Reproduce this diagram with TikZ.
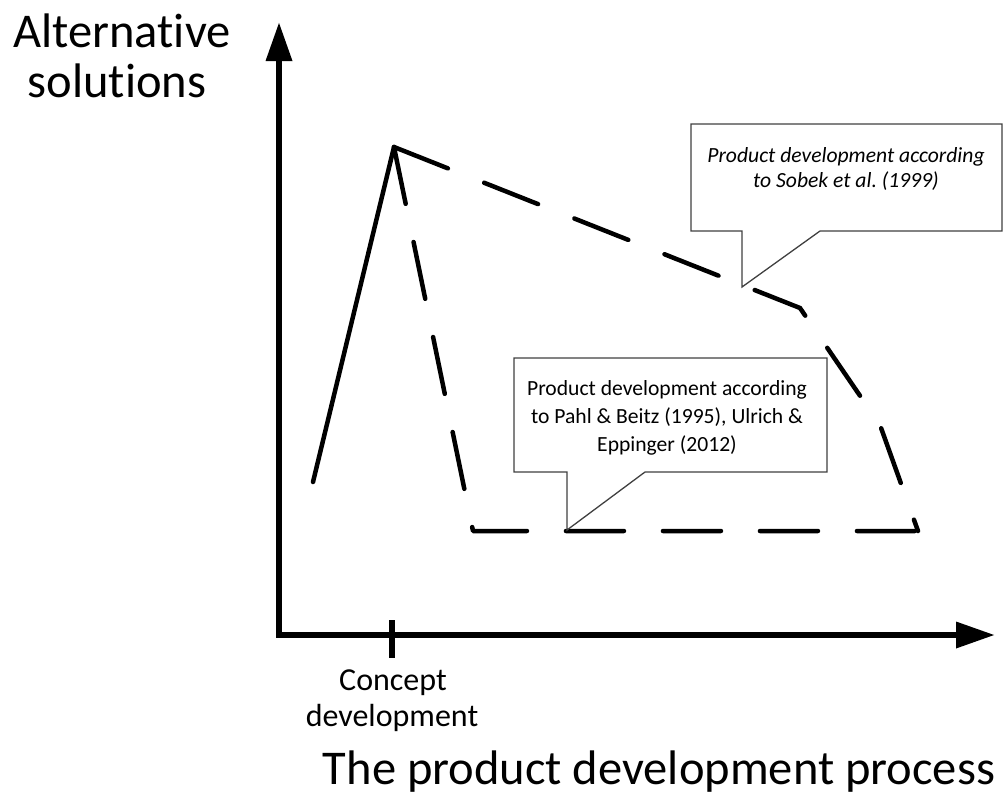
\documentclass[tikz,border=0pt]{standalone}
\usepackage{fontspec}
\setmainfont[RawFeature=-liga]{Carlito}
\frenchspacing
\usetikzlibrary{arrows.meta}
\begin{document}
\begin{tikzpicture}[x=1pt,y=-1pt,
  axis/.style={line width=6.5pt, line join=miter},
  curve/.style={line width=4.5pt, line cap=round, line join=round},
  dashcurve/.style={curve, dash pattern=on 58pt off 39pt},
  callout/.style={draw=black!75, line width=1.3pt, fill=white, line join=miter},
  big/.style={font=\fontsize{48.5}{50}\selectfont, anchor=base, inner sep=0pt},
  mid/.style={font=\fontsize{32}{36}\selectfont, anchor=base, inner sep=0pt},
  small/.style={font=\fontsize{21.6}{25}\selectfont, anchor=base, inner sep=0pt},
  smallit/.style={font=\fontsize{21.6}{25}\selectfont\itshape, anchor=base, inner sep=0pt}]
\useasboundingbox (0,0) rectangle (1007,796);
% axes
\coordinate (ytip) at (279,22);
\coordinate (origin) at (279,635);
\coordinate (xtip) at (995,635);
\draw[axis, {Triangle[length=39pt,width=25pt]}-{Triangle[length=39pt,width=25pt]}] (ytip) -- (origin) -- (xtip);
\coordinate (ticktop) at (392,620);
\coordinate (tickbot) at (392,658);
\draw[line width=6pt] (ticktop) -- (tickbot);
% curves
\coordinate (start) at (313,482);
\coordinate (peak) at (394,147);
\coordinate (pahlcorner) at (473,531);
\coordinate (endcorner) at (918,531);
\coordinate (sA) at (800,308);
\coordinate (sB) at (880,425);
\draw[curve] (start) -- (peak);
\draw[dashcurve] (peak) -- (pahlcorner) -- (endcorner);
\draw[dashcurve, line join=miter] (peak) -- (sA) -- (sB) -- (endcorner);
% callouts
\coordinate (stip) at (742,287);
\draw[callout] (691,124) -- (1002,124) -- (1002,231) -- (820,231) -- (stip) -- (742,231) -- (691,231) -- cycle;
\node[smallit] (sobek1) at (846,162) {Product development according};
\node[smallit] (sobek2) at (846,187) {to Sobek et al. (1999)};
\coordinate (ptip) at (567,530);
\draw[callout] (514,358) -- (827,358) -- (827,472) -- (645,472) -- (ptip) -- (567,472) -- (514,472) -- cycle;
\node[small] (pahl1) at (667,395) {Product development according};
\node[small] (pahl2) at (667,423) {to Pahl \& Beitz (1995), Ulrich \&};
\node[small] (pahl3) at (667,451) {Eppinger (2012)};
% labels
\node[big] (ylab1) at (122,47) {Alternative};
\node[big] (ylab2) at (117,97) {solutions};
\node[mid] (tick1) at (393,690) {Concept};
\node[mid] (tick2) at (392,726) {development};
\node[big] (xlab) at (659,784) {The product development process};
\end{tikzpicture}
\end{document}
